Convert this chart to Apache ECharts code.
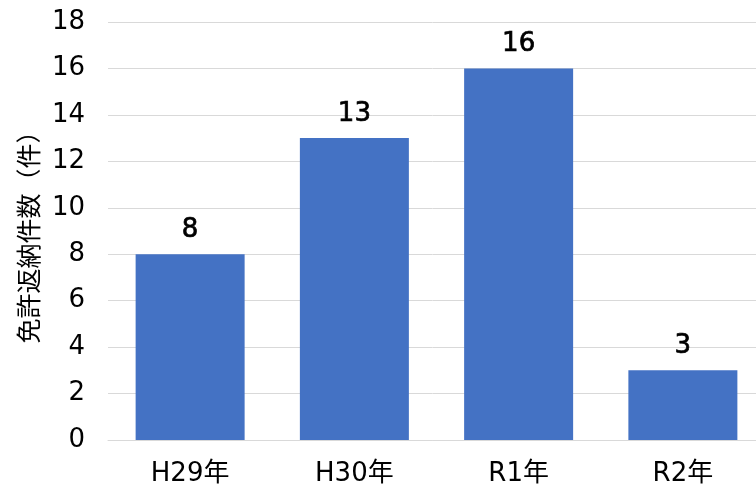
<!DOCTYPE html>
<html>
<head>
<meta charset="utf-8">
<script src="https://cdn.jsdelivr.net/npm/echarts@6/dist/echarts.min.js"></script>
<style>
  html, body { margin: 0; padding: 0; background: #fff; }
  #chart { width: 756px; height: 489px; }
</style>
</head>
<body>
<div id="chart"></div>
<script>
// Licence returns per fiscal year
const categories = ['H29年', 'H30年', 'R1年', 'R2年'];
const returnCounts = [8, 13, 16, 3];
const yTicks = { min: 0, max: 18, interval: 2 };
const axisName = '免許返納件数（件）';

const font = '"DejaVu Sans", "Noto Sans CJK JP", sans-serif';
const cjkFont = '"Noto Sans CJK JP", sans-serif';

const chart = echarts.init(document.getElementById('chart'), null, { renderer: 'canvas' });
chart.setOption({
  animation: false,
  textStyle: { fontFamily: font },
  grid: { left: 108, width: 657, top: 22, height: 418, containLabel: false, outerBoundsMode: 'none' },
  xAxis: {
    type: 'category',
    data: categories,
    axisLine: { show: true, lineStyle: { color: '#d9d9d9', width: 1 } },
    axisTick: { show: false },
    axisLabel: { color: '#000', fontSize: 26, fontFamily: font, margin: 21 }
  },
  yAxis: {
    type: 'value',
    min: yTicks.min,
    max: yTicks.max,
    interval: yTicks.interval,
    name: axisName,
    nameLocation: 'middle',
    nameGap: 67,
    nameRotate: 90,
    nameTextStyle: { color: '#000', fontSize: 25, fontFamily: cjkFont },
    axisLine: { show: false },
    axisTick: { show: false },
    axisLabel: { color: '#000', fontSize: 26, fontFamily: font, margin: 23, padding: [5, 0, 0, 0] },
    splitLine: { lineStyle: { color: '#d9d9d9', width: 1 } }
  },
  series: [{
    type: 'bar',
    data: returnCounts,
    barWidth: 109,
    itemStyle: { color: '#4472C4' },
    label: {
      show: true,
      position: 'top',
      distance: 11,
      color: '#000',
      fontSize: 26,
      fontFamily: font,
      textBorderColor: '#000',
      textBorderWidth: 0.7
    }
  }]
});
</script>
</body>
</html>
